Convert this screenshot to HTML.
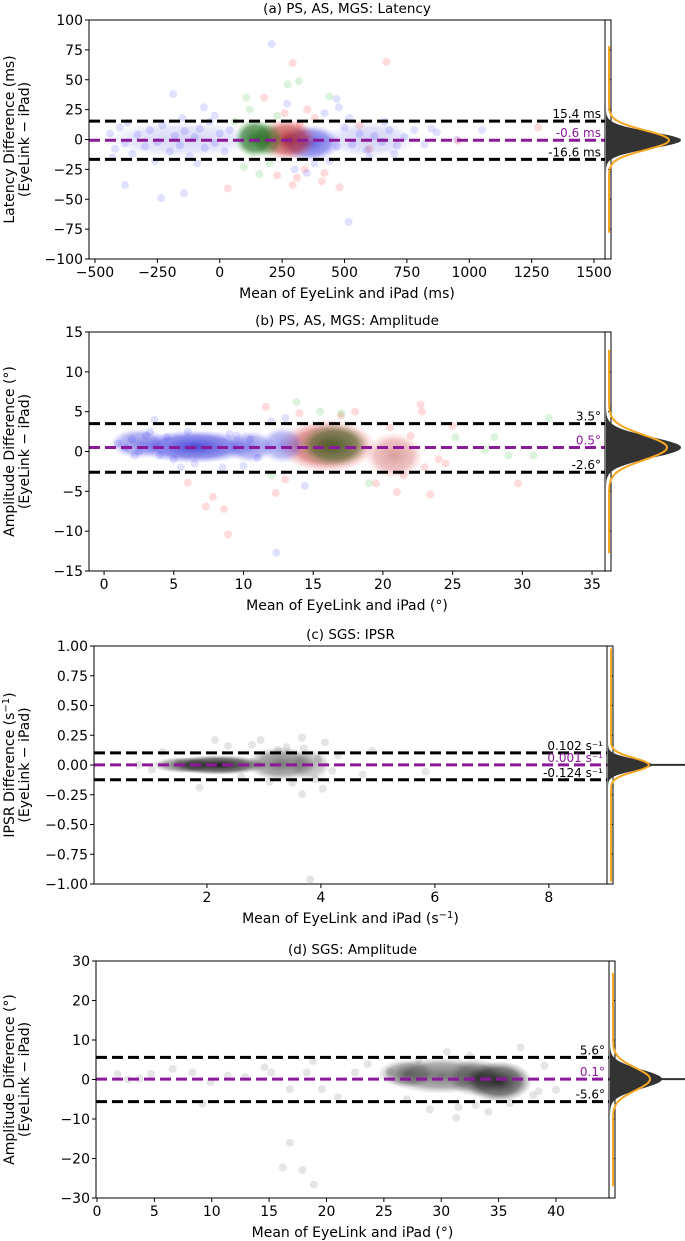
<!DOCTYPE html>
<html><head><meta charset="utf-8"><style>
html,body{margin:0;padding:0;background:#fff;}
svg{display:block;font-family:"DejaVu Sans","Liberation Sans",sans-serif;}
</style></head><body>
<svg id="fig" width="685" height="1241" viewBox="0 0 685 1241" xmlns="http://www.w3.org/2000/svg">
<defs>
<radialGradient id="gBlue"><stop offset="0" stop-color="#2020d0" stop-opacity="0.85"/><stop offset="0.65" stop-color="#4040e0" stop-opacity="0.6"/><stop offset="1" stop-color="#8080ff" stop-opacity="0"/></radialGradient>
<radialGradient id="gRed"><stop offset="0" stop-color="#a01010" stop-opacity="0.9"/><stop offset="0.65" stop-color="#c02020" stop-opacity="0.6"/><stop offset="1" stop-color="#ff6060" stop-opacity="0"/></radialGradient>
<radialGradient id="gGreen"><stop offset="0" stop-color="#106010" stop-opacity="0.9"/><stop offset="0.65" stop-color="#207020" stop-opacity="0.65"/><stop offset="1" stop-color="#60c060" stop-opacity="0"/></radialGradient>
<radialGradient id="gBlack"><stop offset="0" stop-color="#000" stop-opacity="0.9"/><stop offset="0.65" stop-color="#202020" stop-opacity="0.6"/><stop offset="1" stop-color="#606060" stop-opacity="0"/></radialGradient>
</defs>
</svg>
<script>
// ---------- Panel (a) data ----------
const aStats = [15.4, -0.6, -16.6];
const aStatLabels = ["15.4 ms", "-0.6 ms", "-16.6 ms"];
const aXTicks = [-500, -250, 0, 250, 500, 750, 1000, 1250, 1500];
const aXTickLabels = ["\u2212500", "\u2212250", "0", "250", "500", "750", "1000", "1250", "1500"];
const aYTicks = [100, 75, 50, 25, 0, -25, -50, -75, -100];
const aYTickLabels = ["100", "75", "50", "25", "0", "\u221225", "\u221250", "\u221275", "\u2212100"];
const aBlueX = [208,-187,-380,-143,-235,516,270,468,477,1051,849,349,-64,-440,-420,-400,-380,-350,-330,-300,-280,-250,-230,-200,-180,-160,-140,-120,-100,-80,-60,-40,-20,0,20,40,470,500,530,560,590,620,650,680,710,740,780,820,870,950,-430,-370,-260,-150,-90,-20,520,600,660,700,380,420,440,300];
const aBlueY = [80,38,-38,-45,-49,-69,30,34,27,8,9,-28,27,5,-8,10,-3,-12,4,-6,8,-2,12,-10,3,-5,7,-14,2,9,-7,15,-3,5,-10,8,-6,10,-4,5,-9,3,-2,8,-5,2,8,-4,6,0,-15,14,-18,18,-20,20,18,-15,15,-12,-20,22,-18,-25];
const aRedX = [292,320,32,292,410,480,1276,955,178,668,230,340,260,380,420,560,600,310,350];
const aRedY = [64,13,-41,-38,-35,-40,10,-1,35,65,-30,-25,22,18,-28,12,-8,-32,25];
const aGreenX = [273,317,106,440,97,159,60,200,120,230];
const aGreenY = [46,49,35,36,-23,-29,15,-20,25,20];
const aClX = [-150, 600, 360, 270, 140, 190];
const aClY = [0, 0, -3, 0, 1, 0];
const aClSX = [300, 170, 110, 100, 65, 50];
const aClSY = [12, 12, 12, 14, 13, 12];
const aClC = ["gBlue", "gBlue", "gBlue", "gRed", "gGreen", "gGreen"];
const aClA = [0.22, 0.25, 0.85, 0.9, 0.95, 0.6];

// ---------- Panel (b) data ----------
const bStats = [3.5, 0.5, -2.6];
const bStatLabels = ["3.5\u00b0", "0.5\u00b0", "-2.6\u00b0"];
const bXTicks = [0, 5, 10, 15, 20, 25, 30, 35];
const bXTickLabels = ["0", "5", "10", "15", "20", "25", "30", "35"];
const bYTicks = [15, 10, 5, 0, -5, -10, -15];
const bYTickLabels = ["15", "10", "5", "0", "\u22125", "\u221210", "\u221215"];
const bBlueX = [12.35,3.6,14.4,1,1.5,2,2.5,3,4,4.5,5,6,6.5,9,10,10.5,11,12,13,2.2,3.3,5.5,8.5,9.5];
const bBlueY = [-12.7,4,-4.3,1,0.5,1.5,0,2,-0.5,1.8,-1,2.5,-1.5,2.2,-1.8,1.5,-0.8,3.8,4.2,-0.5,2.5,-2,-2,2];
const bRedX = [8.9,7.3,8.6,7.8,12.3,11.6,22.7,23.4,29.7,21,25,6,20.5,21.5,22,23,24,19.5,18,17,14,13,22.8,24.5];
const bRedY = [-10.4,-6.9,-7.2,-5.7,-5.2,5.6,5.9,-5.4,-4,-5.1,3.2,-3.9,3,-3,2,-2,-1,-4,5,4.5,4.8,-3.5,5,-1.5];
const bGreenX = [13.8,31.9,25.2,28,29,30.8,27.3,15.5,17,12,19];
const bGreenY = [6.2,4.2,1.8,1.8,-0.5,-0.5,0.2,5,4.8,-3,-4];
const bClX = [6.5, 2.5, 10.5, 16, 16.5, 20.8, 12.8];
const bClY = [0.6, 1, 0.6, 0.7, 0.8, -0.5, 0.8];
const bClSX = [4, 1.8, 1.5, 3.2, 2.2, 1.8, 1.3];
const bClSY = [1.6, 1.4, 1.5, 2.8, 2.2, 2.4, 1.8];
const bClC = ["gBlue", "gBlue", "gBlue", "gRed", "gGreen", "gRed", "gBlue"];
const bClA = [0.95, 0.6, 0.6, 0.8, 0.7, 0.45, 0.55];

// ---------- Panel (c) data ----------
const cStats = [0.102, 0.001, -0.124];
const cStatLabels = ["0.102 s\u207b\u00b9", "0.001 s\u207b\u00b9", "-0.124 s\u207b\u00b9"];
const cXTicks = [2, 4, 6, 8];
const cXTickLabels = ["2", "4", "6", "8"];
const cYTicks = [1, 0.75, 0.5, 0.25, 0, -0.25, -0.5, -0.75, -1];
const cYTickLabels = ["1.00", "0.75", "0.50", "0.25", "0.00", "\u22120.25", "\u22120.50", "\u22120.75", "\u22121.00"];
const cPtX = [3.81,2.14,2.94,3.67,4.07,4.9,5.84,4.73,3.67,4.03,1.87,1.03,1.22,2.79,2.37,3.25,3.5,3.9,4.3,3.1,2.6,3.4,3.7,3.95,4.2,1.5,0.8];
const cPtY = [-0.96,0.21,0.21,0.23,0.19,0.12,-0.056,-0.08,-0.245,-0.2,-0.19,-0.04,0.11,0.17,0.16,0.126,-0.15,-0.12,0.08,-0.14,-0.1,0.15,0.14,0.05,-0.05,0.02,0];
const cClX = [2.2, 3.3, 1.6, 3.8];
const cClY = [0, 0.01, 0, 0];
const cClSX = [0.8, 0.55, 0.5, 0.3];
const cClSY = [0.05, 0.11, 0.035, 0.1];
const cClC = ["gBlack", "gBlack", "gBlack", "gBlack"];
const cClA = [1, 0.6, 0.6, 0.35];

// ---------- Panel (d) data ----------
const dStats = [5.6, 0.1, -5.6];
const dStatLabels = ["5.6\u00b0", "0.1\u00b0", "-5.6\u00b0"];
const dXTicks = [0, 5, 10, 15, 20, 25, 30, 35, 40];
const dXTickLabels = ["0", "5", "10", "15", "20", "25", "30", "35", "40"];
const dYTicks = [30, 20, 10, 0, -10, -20, -30];
const dYTickLabels = ["30", "20", "10", "0", "\u221210", "\u221220", "\u221230"];
const dPtX = [16.8,16.2,17.9,18.9,9.2,36.9,31.3,34.1,1.8,6.6,14.6,18.8,23.6,40,39,29,21,2.7,3.7,4.7,8.3,11.4,12.9,16.8,19.6,22.5,9.9,15.2,18.3,31.5,32.5,33,28,27,38,38.5,25.5,30.5,36];
const dPtY = [-16,-22.3,-22.9,-26.6,-6.1,8.1,-9.7,-8.2,1.4,2.7,3.1,4.7,3.9,-2.6,3.5,-7.6,-4.5,0,0.2,1.4,1.8,1,0.6,-2.4,-2.4,1.8,-0.7,1.8,1.8,-7,6,-6.5,5,-5,-4,-3,2,7,-6];
const dClX = [30, 35, 27, 33];
const dClY = [1, -0.5, 1.5, 0.5];
const dClSX = [4.5, 2.6, 2.2, 2.2];
const dClSY = [3.6, 4.2, 2.6, 3.8];
const dClC = ["gBlack", "gBlack", "gBlack", "gBlack"];
const dClA = [0.6, 0.95, 0.5, 0.55];

const NS = "http://www.w3.org/2000/svg";
const svg = document.getElementById("fig");
function el(tag, attrs, parent) {
  const e = document.createElementNS(NS, tag);
  for (const k in attrs) e.setAttribute(k, attrs[k]);
  (parent || svg).appendChild(e);
  return e;
}
function txt(str, attrs, parent) { const t = el("text", attrs, parent); t.textContent = str; return t; }

function panel(cfg) {
  const g = el("g", {});
  
  
  const sx = v => cfg.L + (v - cfg.xmin) / (cfg.xmax - cfg.xmin) * (cfg.R - cfg.L);
  const sy = v => cfg.B - (v - cfg.ymin) / (cfg.ymax - cfg.ymin) * (cfg.B - cfg.T);
  const clip = el("clipPath", {id: cfg.id + "-clip"}, g);
  el("rect", {x: cfg.L, y: cfg.T, width: cfg.R - cfg.L, height: cfg.B - cfg.T}, clip);
  const plot = el("g", {"clip-path": "url(#" + cfg.id + "-clip)"}, g);
  for (let i = 0; i < cfg.clX.length; i++) {
    const c = el("ellipse", {cx: sx(cfg.clX[i]), cy: sy(cfg.clY[i]),
      rx: Math.abs(sx(cfg.clX[i] + cfg.clSX[i]) - sx(cfg.clX[i])) + 4,
      ry: Math.abs(sy(cfg.clY[i] + cfg.clSY[i]) - sy(cfg.clY[i])) + 4,
      fill: "url(#" + cfg.clC[i] + ")", opacity: cfg.clA[i]}, plot);
    
    
  }
  cfg.series.forEach(s => {
    for (let i = 0; i < s.x.length; i++) {
      const p = el("circle", {cx: sx(s.x[i]), cy: sy(s.y[i]), r: 4, fill: s.color, "fill-opacity": s.alpha}, plot);
      
      
    }
  });
  const colors = ["#000", "#8b1a9a", "#000"];
  for (let i = 0; i < 3; i++) {
    const y = sy(cfg.stats[i]);
    const ln = el("line", {x1: cfg.L, x2: cfg.R, y1: y, y2: y, stroke: colors[i], "stroke-width": 3, "stroke-dasharray": "11,5"}, g);
    
    
    const t = txt(cfg.statLabels[i], {x: cfg.R - 4, y: y - 3, "text-anchor": "end", "font-size": 12, fill: colors[i]}, g);
    
    
  }
  const fr = el("rect", {x: cfg.L, y: cfg.T, width: cfg.R - cfg.L, height: cfg.B - cfg.T, fill: "none", stroke: "#000", "stroke-width": 1}, g);
  
  
  cfg.xTicks.forEach((v, i) => {
    const x = sx(v);
    el("line", {x1: x, x2: x, y1: cfg.B, y2: cfg.B + 4, stroke: "#000"}, g);
    const t = txt(cfg.xTickLabels[i], {x: x, y: cfg.B + 18, "text-anchor": "middle", "font-size": 14}, g);
    
    
  });
  cfg.yTicks.forEach((v, i) => {
    const y = sy(v);
    el("line", {x1: cfg.L - 4, x2: cfg.L, y1: y, y2: y, stroke: "#000"}, g);
    const t = txt(cfg.yTickLabels[i], {x: cfg.L - 6, y: y + 5, "text-anchor": "end", "font-size": 14}, g);
    
    
  });
  const tt = txt(cfg.title, {x: (cfg.L + cfg.R) / 2, y: cfg.T - 7, "text-anchor": "middle", "font-size": 13.5}, g);
  
  
  const xl = txt("", {x: (cfg.L + cfg.R) / 2, y: cfg.B + 39, "text-anchor": "middle", "font-size": 14}, g);
  xl.innerHTML = cfg.xlabel;
  
  
  const cy = (cfg.T + cfg.B) / 2;
  const yl = txt("", {x: 0, y: 0, "text-anchor": "middle", "font-size": 14, transform: "translate(14," + cy + ") rotate(-90)"}, g);
  yl.innerHTML = cfg.ylabel;
  
  
  const yl2 = txt("(EyeLink \u2212 iPad)", {x: 0, y: 0, "text-anchor": "middle", "font-size": 14, transform: "translate(29," + cy + ") rotate(-90)"}, g);
  
  
  // marginal histogram
  const hx = cfg.R, hw = 6;
  const m = cfg.stats[1], sd = (cfg.stats[0] - cfg.stats[2]) / 3.92;
  let hp = "M" + (hx + 1) + "," + sy(m - 4 * sd);
  let kp = "";
  const kmin = cfg.ymin * cfg.kdeFrac, kmax = cfg.ymax * cfg.kdeFrac;
  for (let k = 0; k <= 240; k++) {
    const v = kmin + (kmax - kmin) * k / 240;
    const gz = Math.exp(-0.5 * Math.pow((v - m) / sd, 2));
    kp += (k ? "L" : "M") + (hx + 4 + cfg.kde * gz).toFixed(1) + "," + sy(v).toFixed(1);
  }
  for (let k = 0; k <= 200; k++) {
    const v = m - 4 * sd + 8 * sd * k / 200;
    const gh = Math.exp(-0.5 * Math.pow((v - m) / (sd * 0.85), 2));
    hp += "L" + (hx + 1 + cfg.hist * gh).toFixed(1) + "," + sy(v).toFixed(1);
  }
  hp += "L" + (hx + 1) + "," + sy(m + 4 * sd) + "Z";
  const hs = el("rect", {x: hx, y: cfg.T, width: hw, height: cfg.B - cfg.T, fill: "#fff", stroke: "#000", "stroke-width": 1}, g);
  
  
  cfg.yTicks.forEach(v => { el("line", {x1: hx + hw - 3, x2: hx + hw, y1: sy(v), y2: sy(v), stroke: "#000"}, g); });
  const h = el("path", {d: hp, fill: "#333"}, g);
  
  
  if (cfg.spike) {
    const sp = el("line", {x1: hx, x2: 685, y1: sy(m), y2: sy(m), stroke: "#333", "stroke-width": 2}, g);
    
    
  }
  const kd = el("path", {d: kp, fill: "none", stroke: "#f5a623", "stroke-width": 2}, g);
  
  
}

panel({id: "panel-a-latency", title: "(a) PS, AS, MGS: Latency", L: 89, R: 605, T: 20, B: 259,
  xmin: -524, xmax: 1544, ymin: -100, ymax: 100,
  xTicks: aXTicks, xTickLabels: aXTickLabels, yTicks: aYTicks, yTickLabels: aYTickLabels,
  stats: aStats, statLabels: aStatLabels, clX: aClX, clY: aClY, clSX: aClSX, clSY: aClSY, clC: aClC, clA: aClA,
  series: [{x: aBlueX, y: aBlueY, color: "#0000ff", alpha: 0.12}, {x: aRedX, y: aRedY, color: "#ff0000", alpha: 0.14}, {x: aGreenX, y: aGreenY, color: "#00a000", alpha: 0.14}],
  xlabel: "Mean of EyeLink and iPad (ms)", ylabel: "Latency Difference (ms)", kde: 60, hist: 75, spike: false, kdeFrac: 0.78});

panel({id: "panel-b-amplitude", title: "(b) PS, AS, MGS: Amplitude", L: 89, R: 605, T: 332, B: 571,
  xmin: -1.08, xmax: 35.93, ymin: -15, ymax: 15,
  xTicks: bXTicks, xTickLabels: bXTickLabels, yTicks: bYTicks, yTickLabels: bYTickLabels,
  stats: bStats, statLabels: bStatLabels, clX: bClX, clY: bClY, clSX: bClSX, clSY: bClSY, clC: bClC, clA: bClA,
  series: [{x: bBlueX, y: bBlueY, color: "#0000ff", alpha: 0.12}, {x: bRedX, y: bRedY, color: "#ff0000", alpha: 0.14}, {x: bGreenX, y: bGreenY, color: "#00a000", alpha: 0.14}],
  xlabel: "Mean of EyeLink and iPad (\u00b0)", ylabel: "Amplitude Difference (\u00b0)", kde: 58, hist: 75, spike: false, kdeFrac: 0.85});

panel({id: "panel-c-ipsr", title: "(c) SGS: IPSR", L: 94, R: 607, T: 646, B: 884,
  xmin: 0.018, xmax: 9.02, ymin: -1, ymax: 1,
  xTicks: cXTicks, xTickLabels: cXTickLabels, yTicks: cYTicks, yTickLabels: cYTickLabels,
  stats: cStats, statLabels: cStatLabels, clX: cClX, clY: cClY, clSX: cClSX, clSY: cClSY, clC: cClC, clA: cClA,
  series: [{x: cPtX, y: cPtY, color: "#000", alpha: 0.1}],
  xlabel: "Mean of EyeLink and iPad (s<tspan baseline-shift=\"super\" font-size=\"10\">\u22121</tspan>)",
  ylabel: "IPSR Difference (s<tspan baseline-shift=\"super\" font-size=\"10\">\u22121</tspan>)", kde: 38, hist: 44, spike: true, kdeFrac: 0.98});

panel({id: "panel-d-sgs-amplitude", title: "(d) SGS: Amplitude", L: 96, R: 609, T: 961, B: 1198,
  xmin: -0.087, xmax: 44.62, ymin: -30, ymax: 30,
  xTicks: dXTicks, xTickLabels: dXTickLabels, yTicks: dYTicks, yTickLabels: dYTickLabels,
  stats: dStats, statLabels: dStatLabels, clX: dClX, clY: dClY, clSX: dClSX, clSY: dClSY, clC: dClC, clA: dClA,
  series: [{x: dPtX, y: dPtY, color: "#000", alpha: 0.1}],
  xlabel: "Mean of EyeLink and iPad (\u00b0)", ylabel: "Amplitude Difference (\u00b0)", kde: 37, hist: 52, spike: true, kdeFrac: 0.9});
</script>
</body></html>
